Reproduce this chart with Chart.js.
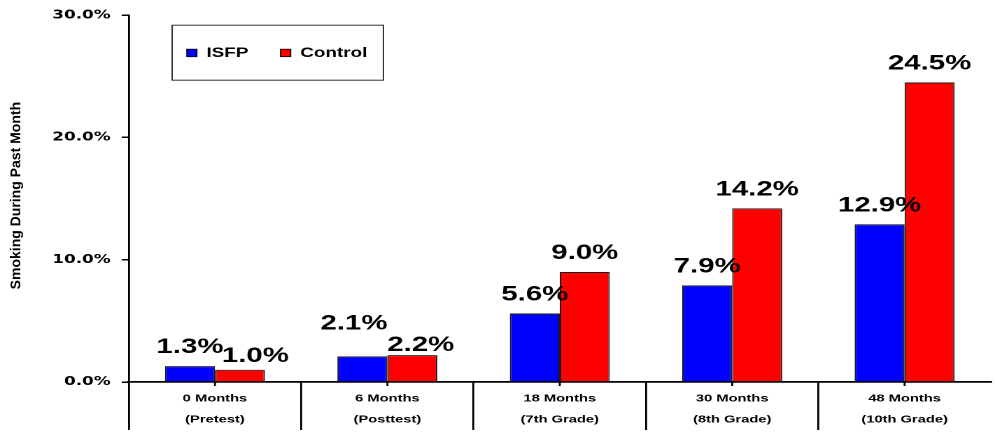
<!DOCTYPE html>
<html>
<head>
<meta charset="utf-8">
<script src="https://cdn.jsdelivr.net/npm/chart.js@4.4.1/dist/chart.umd.min.js"></script>
<style>
html,body{margin:0;padding:0;background:#fff;overflow:hidden}
canvas{display:block}
</style>
</head>
<body>
<canvas id="smokingChart" width="711" height="433" style="width:995px;height:433px"></canvas>
<script>
/* DATA */

const categories=[
["0 Months","(Pretest)"],
["6 Months","(Posttest)"],
["18 Months","(7th Grade)"],
["30 Months","(8th Grade)"],
["48 Months","(10th Grade)"]
];

const isfpValues=[1.3,2.1,5.6,7.9,12.9];
const controlValues=[1.0,2.2,9.0,14.2,24.5];

const yTicks=[0,10,20,30];

const yTitle="Smoking During Past Month";

/* label nudges (dx,dy) so the small values don't collide */
const isfpShift=[[0,0],[-6,-14],[0,0],[0,0],[0,0]];
const controlShift=[[11,5],[6,9],[0,0],[0,0],[0,0]];

/* canvas is drawn narrow and widened by css */
const SX=995/711;


/* VALUE LABELS */

const valueLabels={
id:"valueLabels",
afterDatasetsDraw(chart){
const ctx=chart.ctx;
const shifts=[isfpShift,controlShift];
ctx.save();
ctx.font='bold 21px "Liberation Sans"';
ctx.fillStyle="#000";
ctx.textAlign="center";
ctx.textBaseline="alphabetic";
chart.data.datasets.forEach((ds,di)=>{
chart.getDatasetMeta(di).data.forEach((bar,i)=>{
const s=shifts[di][i];
ctx.fillText(ds.data[i].toFixed(1)+"%",bar.x+s[0],bar.y-13+s[1]);
});
});
ctx.restore();
}
};


/* AXIS EXTRAS: centre ticks, y title, legend box */

const axisExtras={
id:"axisExtras",
afterDraw(chart){
const ctx=chart.ctx;
const xs=chart.scales.x;
const area=chart.chartArea;

ctx.save();
ctx.strokeStyle="#000";
ctx.lineWidth=1.4;
xs.ticks.forEach((t,i)=>{
const x=xs.getPixelForTick(i);
ctx.beginPath();
ctx.moveTo(x,area.bottom);
ctx.lineTo(x,area.bottom+4);
ctx.stroke();
});
ctx.restore();

// rotated title, kept at normal proportions
ctx.save();
ctx.translate(11.8,(area.top+area.bottom)/2-3);
ctx.scale(1/SX,1);
ctx.rotate(-Math.PI/2);
ctx.font='bold 14px "Liberation Sans"';
ctx.fillStyle="#000";
ctx.textAlign="center";
ctx.textBaseline="middle";
ctx.fillText(yTitle,0,0);
ctx.restore();

// legend
const bx=area.left+31,by=area.top+10;
ctx.save();
ctx.fillStyle="#fff";
ctx.fillRect(bx,by,151,55);
ctx.strokeStyle="#333";
ctx.lineWidth=1;
ctx.strokeRect(bx,by,151,55);
ctx.font='bold 13.5px "Liberation Sans"';
ctx.textBaseline="alphabetic";
ctx.textAlign="left";
const itemX=[bx+10.5,bx+77.5];
chart.data.datasets.forEach((ds,di)=>{
const x=itemX[di];
ctx.fillStyle=ds.backgroundColor;
ctx.fillRect(x,by+24,7.2,7.5);
ctx.strokeStyle="#000";
ctx.lineWidth=0.8;
ctx.strokeRect(x,by+24,7.2,7.5);
ctx.fillStyle="#000";
ctx.fillText(ds.label,x+14,by+32);
});
ctx.restore();
}
};


/* BAR CHART */

new Chart(document.getElementById("smokingChart"),{

type:"bar",

data:{
labels:categories,
datasets:[{
label:"ISFP",
data:isfpValues,
backgroundColor:"#0000ff",
borderColor:"#1a1a1a",
borderWidth:1
},{
label:"Control",
data:controlValues,
backgroundColor:"#ff0000",
borderColor:"#1a1a1a",
borderWidth:1
}]
},

options:{
responsive:false,
devicePixelRatio:2,
animation:false,
layout:{padding:{top:14,right:3,bottom:0,left:0}},
datasets:{bar:{categoryPercentage:0.58,barPercentage:1}},
plugins:{
legend:{display:false},
tooltip:{enabled:false}
},
scales:{
x:{
offset:true,
grid:{
offset:true,
drawOnChartArea:false,
drawTicks:true,
tickLength:48,
lineWidth:1.4,
color:c=>c.index===undefined?"rgba(0,0,0,0)":"#000"
},
border:{color:"#000",width:1.7},
ticks:{
padding:-42,
color:"#000",
maxRotation:0,
autoSkip:false,
font:{family:"Liberation Sans",weight:"bold",size:10.5,lineHeight:2}
},
afterFit:s=>{s.height=51;}
},
y:{
min:0,
max:30,
afterBuildTicks:s=>{s.ticks=yTicks.map(v=>({value:v}));},
grid:{drawOnChartArea:false,tickLength:5,color:"#000",lineWidth:1.5},
border:{color:"#000",width:1.4},
ticks:{
padding:8,
color:"#000",
font:{family:"DejaVu Sans",weight:"bold",size:12},
callback:v=>v.toFixed(1)+"%"
},
afterFit:s=>{s.width=92;}
}
}
},

plugins:[valueLabels,axisExtras]

});
</script>
</body>
</html>
